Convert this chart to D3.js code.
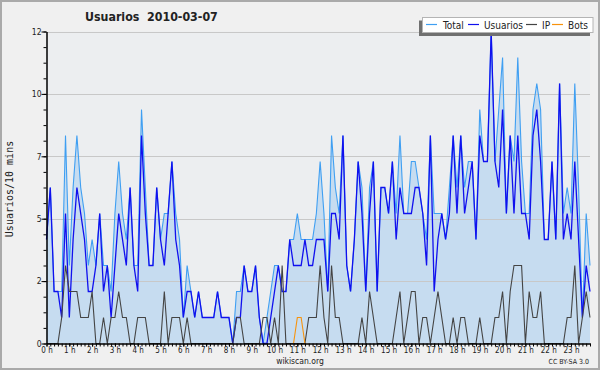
<!DOCTYPE html>
<meta charset="utf-8">
<html>
<head>
<script type="text/javascript" src="https://d3js.org/d3.v7.min.js"></script>
<style>
  body { margin: 0; background: #fff; }
  svg text { font-family: "DejaVu Sans Condensed", "DejaVu Sans", sans-serif; fill: #222; }
</style>
</head>
<body>
<div id="plotArea"></div>
<script>
  // 144 slots of 10 minutes
  const total = [4,6,2,2,2,8,3,6,8,6, 5,3,4,3,5,3,3,2,5,7, 5,4,6,3,3,9,6,3,3,6,
                 4,5,5,7,5,4,1,3,2,1, 2,1,1,1,1,2,1,1,1,0, 2,2,3,2,2,3,1,0,1,2,
                 3,3,2,2,4,4,5,4,4,4, 4,5,7,5,2,8,6,5,8,3, 2,4,7,6,2,6,7,2,6,6,
                 5,7,5,8,5,5,7,7,6,5, 4,8,5,5,5,4,6,8,6,8, 6,7,7,4,9,7,7,12,7,9,
                 11,5,8,7,11,7,5,5,9,10, 9,4,4,7,4,10,5,6,5,10, 6,1,5,3]
  const usuarios = [4,6,2,2,1,5,1,4,6,5, 4,2,2,3,5,2,3,1,3,5, 4,3,6,3,2,8,5,3,3,6,
                    4,3,5,7,4,3,1,2,2,1, 2,1,1,1,1,2,1,1,1,0, 1,1,3,2,2,3,1,0,0,1,
                    2,3,2,2,4,3,3,3,4,3, 3,4,4,4,2,5,5,4,8,3, 2,4,7,5,2,5,7,2,6,6,
                    5,7,4,6,5,5,5,6,6,5, 3,8,2,4,5,4,5,8,5,8, 5,6,7,4,8,7,7,12,7,6,
                    9,5,8,5,8,5,5,4,8,9, 7,4,4,7,4,10,4,5,4,7, 4,1,3,2]
  const ip = [0,0,0,0,1,3,2,2,2,1, 1,1,2,0,0,1,0,1,1,2, 1,1,0,0,1,1,1,0,0,0,
              0,2,0,1,1,1,0,1,0,0, 0,0,0,0,0,0,0,0,0,0, 1,1,0,0,0,0,0,1,1,0,
              1,0,3,0,0,0,0,0,0,1, 1,1,3,1,0,3,1,1,0,0, 0,0,0,1,0,2,1,0,0,0,
              0,0,1,2,0,1,2,2,0,1, 1,0,1,2,1,0,0,1,0,1, 1,0,0,0,1,0,0,0,1,1,
              2,0,2,3,3,3,0,2,1,1, 2,0,0,0,0,0,0,1,1,3, 0,1,2,1]
  const bots = [0,0,0,0,0,0,0,0,0,0, 0,0,0,0,0,0,0,0,0,0, 0,0,0,0,0,0,0,0,0,0,
                0,0,0,0,0,0,0,0,0,0, 0,0,0,0,0,0,0,0,0,0, 0,0,0,0,0,0,0,0,0,0,
                0,0,0,0,0,0,1,1,0,0, 0,0,0,0,0,0,0,0,0,0, 0,0,0,0,0,0,0,0,0,0,
                0,0,0,0,0,0,0,0,0,0, 0,0,0,0,0,0,0,0,0,0, 0,0,0,0,0,0,0,0,0,0,
                0,0,0,0,0,0,0,0,0,0, 0,0,0,0,0,0,0,0,0,0, 0,0,0,0]
  const hourLabels = ["0 h","1 h","2 h","3 h","4 h","5 h","6 h","7 h","8 h","9 h","10 h","11 h",
                      "12 h","13 h","14 h","15 h","16 h","17 h","18 h","19 h","20 h","21 h","22 h","23 h"]
  const yTicks = [0, 2.4, 4.8, 7.2, 9.6, 12]
  const seriesNames = ["Total", "Usuarios", "IP", "Bots"]
  const seriesColors = ["#3f9ff2", "#1010ee", "#444444", "#f7930c"]

  const W = 600, H = 370
  const svg = d3.select("#plotArea").append("svg").attr("width", W).attr("height", H)

  // outer frame
  svg.append("rect").attr("x", 1).attr("y", 1).attr("width", W - 2).attr("height", H - 2)
     .attr("fill", "#f0f0f0").attr("stroke", "#aaaaaa").attr("stroke-width", 2)

  const x = d3.scaleLinear().domain([0, total.length - 1]).range([46.5, 590])
  const y = d3.scaleLinear().domain([0, 12]).range([343.5, 31.5])

  // plot background
  svg.append("rect").attr("x", x(0)).attr("y", y(12)).attr("width", x(total.length - 1) - x(0))
     .attr("height", y(0) - y(12)).attr("fill", "#eceef0")

  // total area
  const area = d3.area().x((d, i) => x(i)).y0(y(0)).y1(d => y(d))
  svg.append("path").datum(total).attr("d", area).attr("fill", "#c6dcf0")

  // grid lines
  svg.append("g").selectAll("line").data(yTicks.slice(1)).enter().append("line")
     .attr("x1", x(0)).attr("x2", x(total.length - 1))
     .attr("y1", d => Math.round(y(d)) + 0.5).attr("y2", d => Math.round(y(d)) + 0.5)
     .attr("stroke", "#c8c8c8").attr("stroke-width", 1)

  // lines
  const line = d3.line().x((d, i) => x(i)).y(d => y(d))
  const allSeries = [total, usuarios, ip, bots]
  allSeries.forEach(function (s, k) {
    if (k == 3) {
      // only draw the bot line where it is above zero, plus its neighbours
      s = s.map((v, i) => (v > 0 || s[i - 1] > 0 || s[i + 1] > 0) ? v : null)
    }
    svg.append("path").datum(s)
       .attr("d", line.defined(d => d !== null))
       .attr("fill", "none").attr("stroke", seriesColors[k])
       .attr("stroke-width", k == 1 ? 1.3 : 1.1)
  })

  // y axis, minor then major
  svg.append("g").attr("transform", "translate(" + x(0) + ",0)")
     .call(d3.axisLeft(y).tickValues(d3.range(0, 12.01, 0.6)).tickSize(3).tickSizeOuter(0).tickFormat(""))
  const yAxis = svg.append("g").attr("transform", "translate(" + x(0) + ",0)")
     .call(d3.axisLeft(y).tickValues(yTicks).tickSize(5).tickPadding(0).tickSizeOuter(0)
       .tickFormat(d => Math.round(d)))
  yAxis.selectAll("text").style("font-size", "8.5px").attr("fill", "#333")

  // x axis: 10 minute ticks and hour labels
  svg.append("g").attr("transform", "translate(0," + y(0) + ")")
     .call(d3.axisBottom(x).tickValues(d3.range(0, total.length)).tickSize(3).tickSizeOuter(0).tickFormat(""))
  const xAxis = svg.append("g").attr("transform", "translate(0," + y(0) + ")")
     .call(d3.axisBottom(x).tickValues(d3.range(0, total.length, 6)).tickSize(3).tickPadding(1).tickSizeOuter(0)
       .tickFormat(d => hourLabels[d / 6]))
  xAxis.selectAll("text").style("font-size", "8px").attr("fill", "#333")
  svg.selectAll(".domain").attr("stroke", "#000")
  svg.selectAll(".tick line").attr("stroke", "#000")

  // title
  svg.append("text").attr("x", 85).attr("y", 21)
     .style("font-size", "12.3px").style("font-weight", "bold").style("white-space", "pre")
     .attr("fill", "#111")
     .text("Usuarios  2010-03-07")

  // y label
  svg.append("text").attr("transform", "translate(13,189) rotate(-90)")
     .style("text-anchor", "middle").style("font-family", "DejaVu Sans Mono")
     .style("font-size", "10px").attr("fill", "#222")
     .text("Usuarios/10 mins")

  // legend
  svg.append("rect").attr("x", 419).attr("y", 20.5).attr("width", 171).attr("height", 15.5).attr("fill", "#707070")
  svg.append("rect").attr("x", 422.5).attr("y", 17.5).attr("width", 170.5).attr("height", 15)
     .attr("fill", "#fff").attr("stroke", "#b4b4b4")
  const legX = [426, 468, 526, 552]
  const legTextX = [443, 484, 542, 568]
  seriesNames.forEach(function (n, k) {
    svg.append("line").attr("x1", legX[k]).attr("x2", legX[k] + 11).attr("y1", 24.5).attr("y2", 24.5)
       .attr("stroke", seriesColors[k]).attr("stroke-width", 1.2)
    svg.append("text").attr("x", legTextX[k]).attr("y", 28.5).style("font-size", "10px").attr("fill", "#222").text(n)
  })

  // footer
  svg.append("text").attr("x", 300).attr("y", 364).style("text-anchor", "middle")
     .style("font-size", "8.5px").attr("fill", "#333").text("wikiscan.org")
  svg.append("text").attr("x", 589).attr("y", 364).style("text-anchor", "end")
     .style("font-size", "7px").attr("fill", "#555").text("CC BY-SA 3.0")
</script>
</body>
</html>
